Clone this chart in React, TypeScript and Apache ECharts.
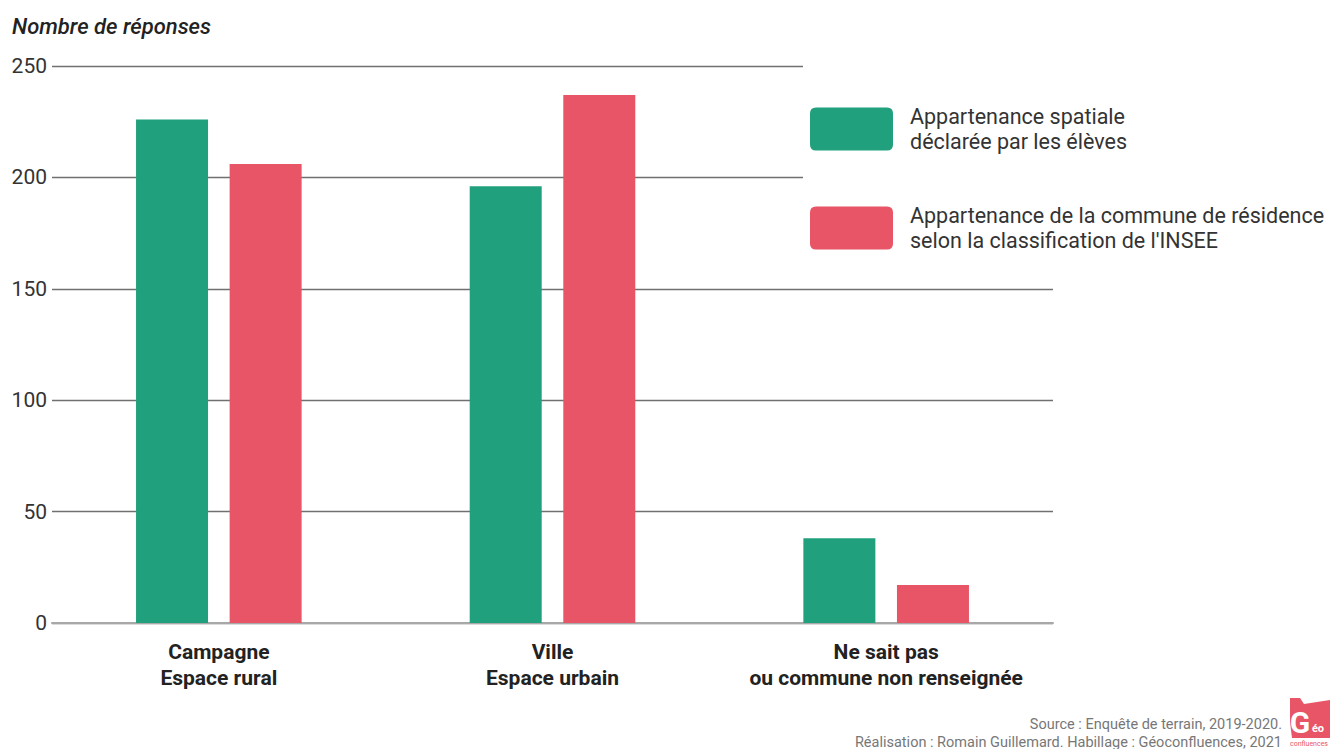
import React, { useEffect, useRef } from "react";
import * as echarts from "echarts";

const categories = ["Campagne\nEspace rural", "Ville\nEspace urbain", "Ne sait pas\nou commune non renseignée"];
const declared = [226, 196, 38];
const insee = [206, 237, 17];
const seriesNames = [
  "Appartenance spatiale\ndéclarée par les élèves",
  "Appartenance de la commune de résidence\nselon la classification de l'INSEE",
];
const yTicks = { min: 0, max: 250, interval: 50 };
const title = "Nombre de réponses";
const sourceLines = [
  "Source : Enquête de terrain, 2019-2020.",
  "Réalisation : Romain Guillemard. Habillage : Géoconfluences, 2021",
];

const GREEN = "#20a07c";
const RED = "#e85566";
const FONT = "Roboto, 'Noto Sans', sans-serif";
const ICON = "path://M6,0H77Q83,0 83,6V37Q83,43 77,43H6Q0,43 0,37V6Q0,0 6,0Z";

export default function App() {
  const ref = useRef<HTMLDivElement>(null);
  useEffect(() => {
    if (!ref.current) return;
    const chart = echarts.init(ref.current, undefined, { renderer: "svg" });
    chart.setOption({
      animation: false,
      backgroundColor: "#ffffff",
      textStyle: { fontFamily: FONT },
      title: {
        text: title,
        left: 7,
        top: 10,
        textStyle: { fontFamily: FONT, fontSize: 22, fontStyle: "italic", fontWeight: 500, color: "#222" },
      },
      grid: { left: 52, right: 277, top: 66, bottom: 126, containLabel: false },
      xAxis: {
        type: "category",
        data: categories,
        axisTick: { show: false },
        axisLine: { show: true, lineStyle: { color: "#a8a8a8", width: 2 } },
        axisLabel: {
          fontFamily: FONT,
          fontSize: 21,
          fontWeight: "bold",
          color: "#222",
          lineHeight: 26,
          margin: 16,
          interval: 0,
        },
      },
      yAxis: {
        type: "value",
        min: yTicks.min,
        max: yTicks.max,
        interval: yTicks.interval,
        axisLine: { show: false },
        axisTick: { show: false },
        axisLabel: { fontFamily: FONT, fontSize: 21, color: "#333", margin: 5 },
        splitLine: { lineStyle: { color: "#707070", width: 1.3 } },
      },
      legend: {
        orient: "vertical",
        left: 810,
        top: 104,
        padding: 0,
        itemWidth: 83,
        itemHeight: 43,
        itemGap: 49,
        icon: ICON,
        z: 200,
        selectedMode: false,
        textStyle: { fontFamily: FONT, fontSize: 21.5, color: "#333", lineHeight: 25, padding: [0, 0, 0, 12] },
        data: seriesNames,
      },
      graphic: [
        {
          type: "rect",
          shape: { x: 803, y: 56, width: 527, height: 214 },
          style: { fill: "#ffffff" },
          z: 100,
        },
        {
          type: "text",
          x: 1282,
          y: 724,
          style: { text: sourceLines[0], font: `14.5px ${FONT}`, fill: "#777", textAlign: "right", textVerticalAlign: "middle" },
        },
        {
          type: "text",
          x: 1282,
          y: 742,
          style: { text: sourceLines[1], font: `14.5px ${FONT}`, fill: "#777", textAlign: "right", textVerticalAlign: "middle" },
        },
        {
          type: "polygon",
          shape: { points: [[1290, 698], [1300, 698], [1304, 704], [1330, 700], [1330, 738], [1292, 738], [1290, 722]] },
          style: { fill: RED },
        },
        {
          type: "text",
          x: 1300,
          y: 722,
          style: { text: "G", font: `bold 30px ${FONT}`, fill: "#ffffff", textAlign: "center", textVerticalAlign: "middle" },
        },
        {
          type: "text",
          x: 1318,
          y: 728,
          style: { text: "éo", font: `bold 11px ${FONT}`, fill: "#ffffff", textAlign: "center", textVerticalAlign: "middle" },
        },
        {
          type: "text",
          x: 1309,
          y: 744,
          style: { text: "confluences", font: `7px ${FONT}`, fill: RED, textAlign: "center", textVerticalAlign: "middle" },
        },
      ],
      series: [
        {
          name: seriesNames[0],
          type: "bar",
          data: declared,
          barWidth: 72,
          barGap: "30%",
          itemStyle: { color: GREEN },
        },
        {
          name: seriesNames[1],
          type: "bar",
          data: insee,
          barWidth: 72,
          itemStyle: { color: RED },
        },
      ],
    });
    return () => chart.dispose();
  }, []);
  return <div ref={ref} style={{ position: "fixed", left: 0, top: 0, width: 1330, height: 749 }} />;
}
